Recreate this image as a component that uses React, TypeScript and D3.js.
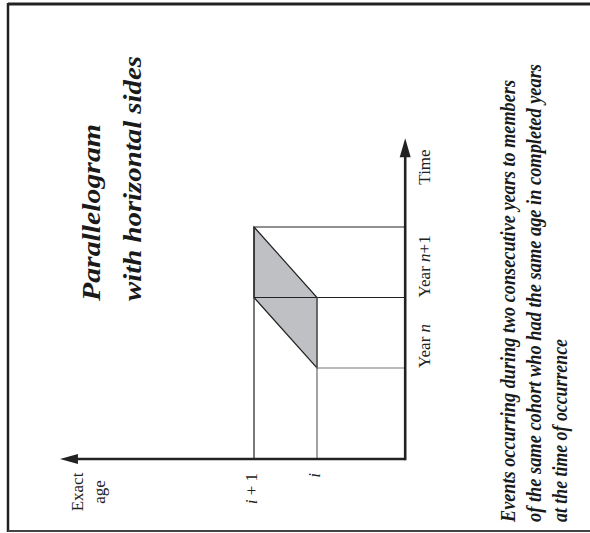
import React from "react";
import * as d3 from "d3";

// ---- data (Lexis diagram, in years) ----
const ages = [0, 1];
const ageLabels = ["i", "i + 1"];
const yearStarts = [0, 1];
const yearLabels = ["Year n", "Year n+1"];
// horizontal boundaries: time value, drawn from the given age to the time axis
const timeLines = [
  { time: 0, fromAge: 0 },
  { time: 1, fromAge: 1 },
  { time: 2, fromAge: 1 },
];
// vertical boundaries: age value, drawn from time axis origin up to given time
const ageLines = [
  { age: 0, toTime: 1 },
  { age: 1, toTime: 2 },
];
// parallelogram [age, time]
const parallelogram: [number, number][] = [
  [1, 2],
  [1, 1],
  [0, 0],
  [0, 1],
];
const ageAxisExtent = [-1.4, 4.08];
const timeAxisExtent = [-1.29, 3.26];
const titleLines = ["Parallelogram", "with horizontal sides"];
const noteLines = [
  "Events occurring during two consecutive years to members",
  "of the same cohort who had the same age in completed years",
  "at the time of occurrence",
];
const ageAxisLabel = ["Exact", "age"];
const timeAxisLabel = "Time";

const W = 590;
const H = 533;
const FONT = "'Liberation Serif', 'Times New Roman', Times, serif";

function Rich({ text }: { text: string }) {
  const parts = text.split(/\b([in])\b/);
  return (
    <>
      {parts.map((p, k) =>
        k % 2 === 1 ? (
          <tspan key={k} fontStyle="italic">
            {p}
          </tspan>
        ) : (
          <tspan key={k}>{p}</tspan>
        )
      )}
    </>
  );
}

export default function App() {
  const x = d3.scaleLinear().domain([0, 1]).range([317, 254]);
  const y = d3.scaleLinear().domain([0, 2]).range([368, 227]);

  const x0 = x(ageAxisExtent[0]);
  const xEnd = x(ageAxisExtent[1]);
  const y0 = y(timeAxisExtent[0]);
  const yEnd = y(timeAxisExtent[1]);

  const line = d3.line<[number, number]>()
    .x((d) => x(d[0]))
    .y((d) => y(d[1]));
  const polyPath = line(parallelogram) + "Z";

  const dark = "#222";
  const titleLengths = [177, 245];
  const noteLengths = [442, 458, 183];

  return (
    <svg
      width={W}
      height={H}
      style={{ position: "absolute", left: 0, top: 0, background: "#fff" }}
      fontFamily={FONT}
    >
      {/* frame */}
      <line x1={8} y1={4} x2={W + 5} y2={4} stroke={dark} strokeWidth={3} />
      <line x1={8} y1={3} x2={8} y2={532} stroke={dark} strokeWidth={2.5} />
      <line x1={8} y1={531} x2={W + 5} y2={531} stroke="#444" strokeWidth={2} />

      {/* parallelogram */}
      <path d={polyPath} fill="#bfc0c4" stroke={dark} strokeWidth={1.2} />

      {/* grid lines */}
      {timeLines.map((d, k) => (
        <line
          key={"t" + k}
          x1={x(d.fromAge)}
          x2={x0}
          y1={y(d.time)}
          y2={y(d.time)}
          stroke={d.time === 0 ? "#777" : dark}
          strokeWidth={1.2}
        />
      ))}
      {ageLines.map((d, k) => (
        <line
          key={"a" + k}
          x1={x(d.age)}
          x2={x(d.age)}
          y1={y0}
          y2={y(d.toTime)}
          stroke={d.age === 0 ? "#666" : dark}
          strokeWidth={1.2}
        />
      ))}

      {/* axes */}
      <line x1={x0} y1={y0} x2={xEnd + 16} y2={y0} stroke={dark} strokeWidth={2.6} />
      <path
        d={`M${xEnd},${y0} L${xEnd + 18},${y0 - 5} L${xEnd + 18},${y0 + 5} Z`}
        fill={dark}
      />
      <line x1={x0} y1={y0 + 1.3} x2={x0} y2={yEnd + 17} stroke={dark} strokeWidth={2.6} />
      <path
        d={`M${x0},${yEnd} L${x0 - 5.5},${yEnd + 19} L${x0 + 5.5},${yEnd + 19} Z`}
        fill={dark}
      />

      {/* age tick labels */}
      {ages.map((a, k) => (
        <text
          key={"al" + k}
          transform={`translate(${x(a) + 3},${y0 + 14}) rotate(-90)`}
          textAnchor="end"
          fontSize={17}
          fill={dark}
        >
          <Rich text={ageLabels[k]} />
        </text>
      ))}

      {/* year labels */}
      {yearStarts.map((t, k) => (
        <text
          key={"yl" + k}
          transform={`translate(${x0 + 25},${y(t)}) rotate(-90)`}
          textAnchor="start"
          fontSize={17}
          fill={dark}
        >
          <Rich text={yearLabels[k]} />
        </text>
      ))}

      {/* axis titles */}
      <text
        transform={`translate(${x0 + 25},${167}) rotate(-90)`}
        textAnchor="middle"
        fontSize={17}
        fill={dark}
      >
        {timeAxisLabel}
      </text>
      {ageAxisLabel.map((s, k) => (
        <text
          key={"ax" + k}
          transform={`translate(${83 + k * 22},${492}) rotate(-90)`}
          textAnchor="middle"
          fontSize={17}
          fill={dark}
        >
          {s}
        </text>
      ))}

      {/* title */}
      {titleLines.map((s, k) => (
        <text
          key={"ti" + k}
          transform={`translate(${100 + k * 41},${301}) rotate(-90)`}
          textAnchor="start"
          fontSize={26}
          fontWeight="bold"
          fontStyle="italic"
          fill="#1a1a1a"
          textLength={titleLengths[k]}
          lengthAdjust="spacingAndGlyphs"
        >
          {s}
        </text>
      ))}

      {/* note */}
      {noteLines.map((s, k) => (
        <text
          key={"no" + k}
          transform={`translate(${515 + k * 26},${522}) rotate(-90)`}
          textAnchor="start"
          fontSize={20}
          fontWeight="bold"
          fontStyle="italic"
          fill="#1a1a1a"
          textLength={noteLengths[k]}
          lengthAdjust="spacingAndGlyphs"
        >
          {s}
        </text>
      ))}
    </svg>
  );
}
